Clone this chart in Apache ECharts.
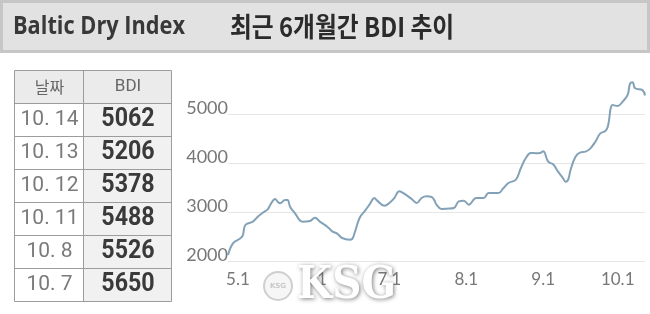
<!DOCTYPE html>
<html><head><meta charset="utf-8">
<script src="https://cdn.jsdelivr.net/npm/echarts@6/dist/echarts.min.js"></script>
<style>html,body{margin:0;padding:0;background:#fff}#c{width:650px;height:314px}</style>
</head><body><div id="c"></div>
<script>
// ---- data ----
const headerLeft = 'Baltic Dry Index';
const headerTitle = '최근 6개월간 BDI 추이';
const tableHead = ['날짜', 'BDI'];
const tableDates = ['10. 14', '10. 13', '10. 12', '10. 11', '10. 8', '10. 7'];
const tableValues = [5062, 5206, 5378, 5488, 5526, 5650];

const lineDates = [
 '2021-04-27','2021-04-29','2021-05-02','2021-05-03','2021-05-04','2021-05-07','2021-05-09','2021-05-11','2021-05-13','2021-05-14',
 '2021-05-16','2021-05-17','2021-05-18','2021-05-20','2021-05-21','2021-05-22','2021-05-24','2021-05-27','2021-05-30','2021-06-01',
 '2021-06-03','2021-06-06','2021-06-08','2021-06-10','2021-06-12','2021-06-15','2021-06-16','2021-06-17','2021-06-19','2021-06-21',
 '2021-06-23','2021-06-25','2021-06-26','2021-06-29','2021-07-01','2021-07-03','2021-07-05','2021-07-07','2021-07-10','2021-07-12',
 '2021-07-14','2021-07-16','2021-07-18','2021-07-19','2021-07-20','2021-07-22','2021-07-24','2021-07-27','2021-07-29','2021-07-31',
 '2021-08-02','2021-08-05','2021-08-08','2021-08-10','2021-08-14','2021-08-16','2021-08-18','2021-08-21','2021-08-23','2021-08-25',
 '2021-08-27','2021-08-29','2021-08-31','2021-09-01','2021-09-03','2021-09-05','2021-09-07','2021-09-09','2021-09-10','2021-09-11',
 '2021-09-12','2021-09-14','2021-09-16','2021-09-18','2021-09-20','2021-09-22','2021-09-24','2021-09-26','2021-09-27','2021-09-29',
 '2021-10-01','2021-10-03','2021-10-05','2021-10-06','2021-10-07','2021-10-08','2021-10-11','2021-10-12'
];
const lineValues = [
 2120,2360,2463,2530,2735,2803,2905,2986,3054,3143,
 3265,3211,3177,3245,3245,3109,2973,2803,2816,2884,
 2803,2700,2605,2558,2469,2435,2449,2571,2878,3014,
 3150,3286,3238,3129,3184,3286,3422,3374,3265,3184,
 3286,3320,3306,3252,3150,3061,3068,3082,3218,3231,
 3150,3286,3286,3388,3388,3490,3592,3660,3898,4102,
 4204,4200,4211,4240,4027,3973,3823,3687,3619,3653,
 3857,4129,4218,4231,4299,4435,4605,4653,4741,5184,
 5163,5252,5388,5626,5650,5526,5488,5378
];
const yTicks = [2000, 3000, 4000, 5000];
const xStart = '2021-04-27', xEnd = '2021-10-12';

// ---- build ----
const chart = echarts.init(document.getElementById('c'), null, {renderer: 'canvas'});
const graphics = [];
// header bar
graphics.push({type:'rect', shape:{x:1.5, y:1.5, width:647, height:50}, style:{fill:'#e2e2e2', stroke:'#c6c6c6', lineWidth:3}, z:1});
graphics.push({type:'text', x:13, y:27, scaleX:0.87, style:{text:headerLeft, x:0, y:0, textAlign:'left', textVerticalAlign:'middle', fill:'#383838', font:'bold 25px "Open Sans"'}, z:2});
graphics.push({type:'text', x:342, y:27, scaleX:0.88, style:{text:headerTitle, x:0, y:0, textAlign:'center', textVerticalAlign:'middle', fill:'#2b2b2b', font:'bold 27px "Noto Sans CJK KR"'}, z:2});

// table
const tL = 14.5, tM = 83.5, tR = 171.5, tTop = 70.5, rowH = 33;
const nRows = tableDates.length + 1;
graphics.push({type:'rect', shape:{x:tL, y:tTop, width:tR-tL, height:rowH}, style:{fill:'#ebebeb'}, z:1});
graphics.push({type:'rect', shape:{x:tM, y:tTop+rowH, width:tR-tM, height:rowH*(nRows-1)}, style:{fill:'#f1f1f1'}, z:1});
for (let r = 0; r <= nRows; r++) {
  graphics.push({type:'line', shape:{x1:tL, y1:tTop+r*rowH, x2:tR, y2:tTop+r*rowH}, style:{stroke:'#9c9c9c', lineWidth:1}, z:3});
}
[tL, tM, tR].forEach(x => graphics.push({type:'line', shape:{x1:x, y1:tTop, x2:x, y2:tTop+nRows*rowH}, style:{stroke:'#9c9c9c', lineWidth:1}, z:3}));
const cDate = (tL+tM)/2 + 0.5, cVal = (tM+tR)/2 + 0.5;
graphics.push({type:'text', x:cDate, y:tTop+rowH/2, style:{text:tableHead[0], textAlign:'center', textVerticalAlign:'middle', fill:'#666', font:'16px "Noto Sans CJK KR"'}, z:4});
graphics.push({type:'text', x:cVal, y:tTop+rowH/2, style:{text:tableHead[1], textAlign:'center', textVerticalAlign:'middle', fill:'#666', font:'17px Roboto'}, z:4});
tableDates.forEach((d, i) => {
  const cy = tTop + (i+1)*rowH + rowH/2;
  graphics.push({type:'text', x:cDate, y:cy, style:{text:d, textAlign:'center', textVerticalAlign:'middle', fill:'#7a7a7a', font:'21px Roboto'}, z:4});
  graphics.push({type:'text', x:cVal, y:cy, scaleX:0.93, style:{text:String(tableValues[i]), x:0, y:0, textAlign:'center', textVerticalAlign:'middle', fill:'#3a3a3a', font:'bold 25px Roboto'}, z:4});
});

// watermark
graphics.push({type:'circle', shape:{cx:278, cy:286, r:14}, style:{fill:'#f6f6f6', stroke:'#cfcfcf', lineWidth:2}, z:10});
graphics.push({type:'text', x:278, y:286, style:{text:'KSG', textAlign:'center', textVerticalAlign:'middle', fill:'#c8c8c8', font:'bold 7px "DejaVu Sans"'}, z:11});
graphics.push({type:'text', x:297, y:287, scaleX:0.92, style:{text:'KSG', x:0, y:0, textAlign:'left', textVerticalAlign:'middle', fill:'#ffffff', font:'bold 44px "DejaVu Serif"', textShadowColor:'rgba(90,90,90,0.8)', textShadowBlur:4, textShadowOffsetX:1, textShadowOffsetY:1}, z:10});

const option = {
  backgroundColor: '#ffffff',
  animation: false,
  grid: {left:228, right:5, top:114, height:147},
  xAxis: {
    type:'time', min:xStart, max:xEnd,
    axisLine:{show:false}, axisTick:{show:false}, splitLine:{show:false},
    axisLabel:{
      color:'#777', fontSize:17, fontFamily:'Lato', margin:10, hideOverlap:false,
      formatter: function (v) { const d = new Date(v); return d.getDate() === 1 ? (d.getMonth()+1) + '.' + d.getDate() : ''; }
    }
  },
  yAxis: {
    type:'value', min:yTicks[0], max:yTicks[yTicks.length-1], interval:yTicks[1]-yTicks[0],
    axisLine:{show:false}, axisTick:{show:false},
    splitLine:{show:true, lineStyle:{color:'#e6e6e6', width:1}},
    axisLabel:{color:'#777', fontSize:18, fontFamily:'Lato', margin:0, verticalAlign:'bottom', lineHeight:12,
      formatter: function (v) { return String(v); }}
  },
  series: [{
    type:'line', clip:false, smooth:0.4, showSymbol:false,
    lineStyle:{color:'#83a1b7', width:2},
    data: lineDates.map((d, i) => [d, lineValues[i]])
  }],
  graphic: graphics
};
chart.setOption(option);
</script></body></html>
